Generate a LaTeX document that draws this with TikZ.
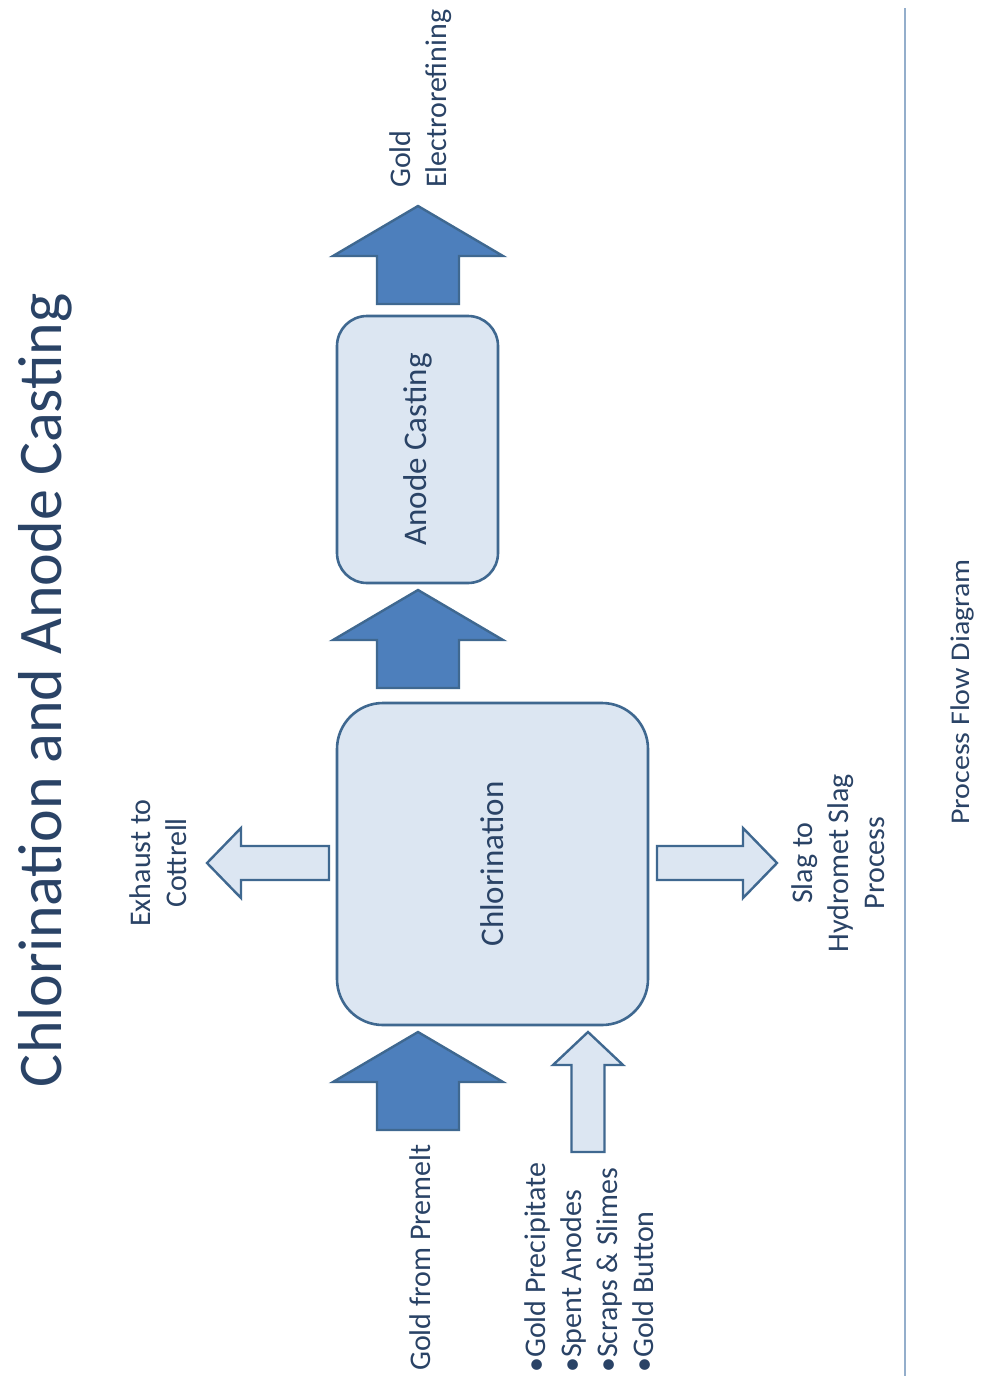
\documentclass[tikz,border=0pt]{standalone}
\usepackage{fontspec}
\setmainfont{Carlito}
\begin{document}
\begin{tikzpicture}[x=1pt,y=-1pt,
  txt/.style={text=ink, inner sep=0pt, rotate=90, font=\fontsize{30}{36}\selectfont},
  procbox/.style={draw=edge, line width=2.6pt, fill=pale, rounded corners=#1},
  darkflow/.style={draw=edge, line width=2.4pt, fill=deep, line join=miter},
  lightflow/.style={draw=edge, line width=2.4pt, fill=pale, line join=miter}]
\definecolor{ink}{HTML}{2A4366}
\definecolor{edge}{HTML}{3F6890}
\definecolor{deep}{HTML}{4D7FBC}
\definecolor{pale}{HTML}{DCE6F2}
\definecolor{rule}{HTML}{94AECB}
\useasboundingbox[fill=white] (0,0) rectangle (984,1376);

% vertical block arrow: centre x, tip y, head base y, tail y, head half width, shaft half width
\newcommand\flowup[7]{%
  \draw[#1] (#2,#3) -- (#2+#6,#4) -- (#2+#7,#4) -- (#2+#7,#5) -- (#2-#7,#5)
    -- (#2-#7,#4) -- (#2-#6,#4) -- cycle;}
% horizontal block arrow: centre y, tip x, head base x, tail x, head half width, shaft half width
\newcommand\flowside[7]{%
  \draw[#1] (#3,#2) -- (#4,#2-#6) -- (#4,#2-#7) -- (#5,#2-#7) -- (#5,#2+#7)
    -- (#4,#2+#7) -- (#4,#2+#6) -- cycle;}

% title and footer
\node[txt, font=\fontsize{62}{70}\selectfont] (title) at (45,690) {Chlorination and Anode Casting};
\draw[rule, line width=2pt] (905,8) -- (905,1376);
\node[txt, font=\fontsize{30}{34}\selectfont, yscale=0.9] (footer) at (962,692) {Process Flow Diagram};

% process boxes
\node[procbox=46pt, minimum width=311pt, minimum height=322pt] (chl) at (492.5,864) {};
\node[txt, font=\fontsize{33}{38}\selectfont] (chltext) at (chl.center) {Chlorination};
\node[procbox=30pt, minimum width=161pt, minimum height=267pt] (anode) at (417.5,449.5) {};
\node[txt, font=\fontsize{33}{38}\selectfont] (anodetext) at (anode.center) {Anode Casting};

% flows
\flowup{darkflow}{418}{1032}{1082}{1130}{85}{41}
\flowup{lightflow}{588}{1032}{1065}{1152}{35}{16.5}
\flowup{darkflow}{418}{590}{640}{688}{85}{41}
\flowup{darkflow}{418}{206}{256}{304}{85}{41}
\flowside{lightflow}{863}{207}{241}{329}{35}{17}
\flowside{lightflow}{863}{777}{743}{657}{35}{17}

% stream labels
\node[txt, anchor=west] (premelt) at (420,1371) {Gold from Premelt};
\node[txt, anchor=west, align=left] (feeds) at (589,1373)
  {•Gold Precipitate\\•Spent Anodes\\•Scraps \& Slimes\\•Gold Button};
\node[txt, anchor=west, align=left] (product) at (421,188) {Gold\\Electrorefining};
\node[txt, align=center] (exhaust) at (158,863) {Exhaust to\\Cottrell};
\node[txt, align=center] (slag) at (838,863) {Slag to\\Hydromet Slag\\Process};
\end{tikzpicture}
\end{document}
